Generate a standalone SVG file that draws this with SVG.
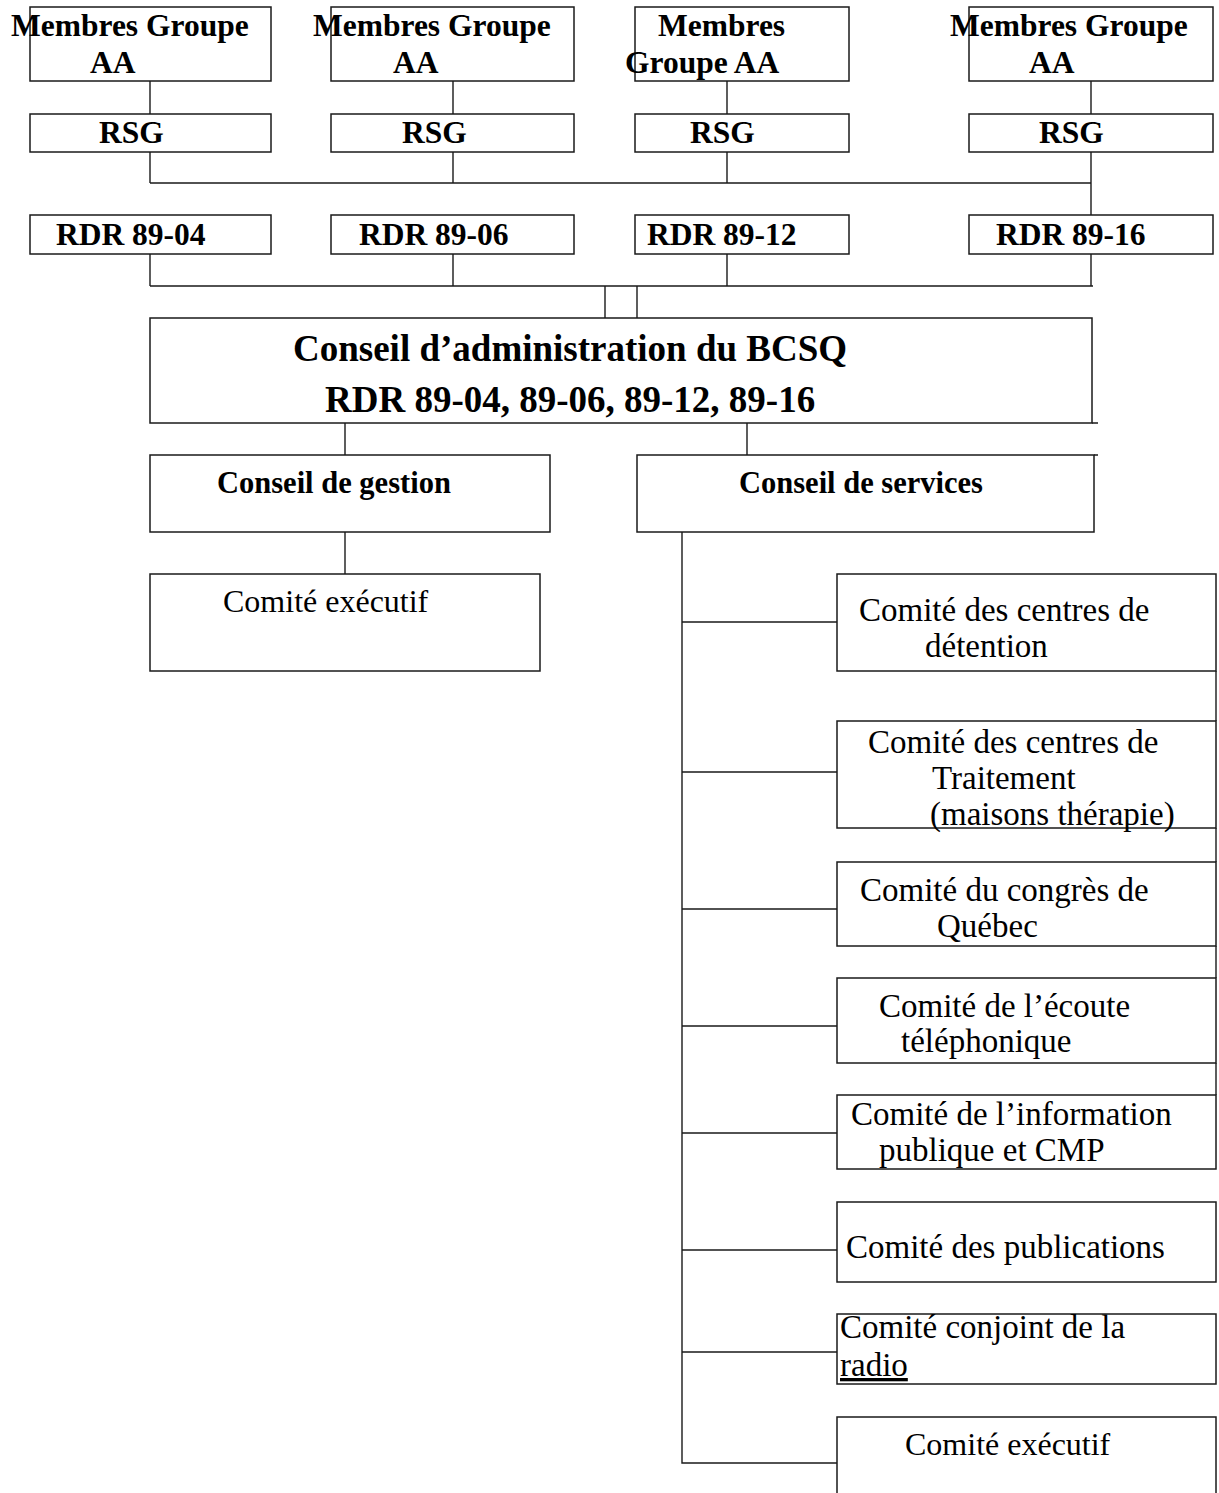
<svg xmlns="http://www.w3.org/2000/svg" width="1219" height="1493" viewBox="0 0 1219 1493">
<style>
.box{fill:#fff;stroke:#1a1a1a;stroke-width:1.5}
.ln{stroke:#1a1a1a;stroke-width:1.4;fill:none}
.tb{font-family:"Liberation Serif","Times New Roman",serif;font-weight:bold;font-size:31.5px;fill:#000}
.tc{font-family:"Liberation Serif","Times New Roman",serif;font-weight:bold;font-size:30.5px;fill:#000}
.ta{font-family:"Liberation Serif","Times New Roman",serif;font-weight:bold;font-size:37px;fill:#000}
.tr{font-family:"Liberation Serif","Times New Roman",serif;font-size:33px;fill:#000}
.tx{font-family:"Liberation Serif","Times New Roman",serif;font-size:32px;fill:#000}
</style>
<rect width="1219" height="1493" fill="#fff"/>
<g id="connectors">
<path class="ln" d="M150 81V114M453 81V114M727 81V114M1091 81V114"/>
<path class="ln" d="M150 152V183M453 152V183M727 152V183M1091 152V215M150 183H1091"/>
<path class="ln" d="M150 254V286M453 254V286M727 254V286M1091 254V286M150 286H1093"/>
<path class="ln" d="M605 286V318M637 286V318"/>
<path class="ln" d="M345 423V455M747 423V455M1092 423H1098M1094 455H1098"/>
<path class="ln" d="M345 532V574"/>
<path class="ln" d="M682 532V1463H837"/>
<path class="ln" d="M682 622H837M682 772H837M682 909H837M682 1026H837M682 1133H837M682 1250H837M682 1352H837"/>
<path class="ln" d="M1216 671V721M1216 828V862M1216 946V978M1216 1063V1095"/>
</g>
<g id="n-membres1"><rect class="box" x="30" y="7" width="241" height="74"/><text class="tb" x="11" y="36">Membres Groupe</text><text class="tb" x="90" y="73">AA</text></g>
<g id="n-membres2"><rect class="box" x="331" y="7" width="243" height="74"/><text class="tb" x="313" y="36">Membres Groupe</text><text class="tb" x="393" y="73">AA</text></g>
<g id="n-membres3"><rect class="box" x="635" y="7" width="214" height="74"/><text class="tb" x="658" y="36">Membres</text><text class="tb" x="625" y="73">Groupe AA</text></g>
<g id="n-membres4"><rect class="box" x="969" y="7" width="244" height="74"/><text class="tb" x="950" y="36">Membres Groupe</text><text class="tb" x="1029" y="73">AA</text></g>
<g id="n-rsg1"><rect class="box" x="30" y="114" width="241" height="38"/><text class="tb" x="99" y="143">RSG</text></g>
<g id="n-rsg2"><rect class="box" x="331" y="114" width="243" height="38"/><text class="tb" x="402" y="143">RSG</text></g>
<g id="n-rsg3"><rect class="box" x="635" y="114" width="214" height="38"/><text class="tb" x="690" y="143">RSG</text></g>
<g id="n-rsg4"><rect class="box" x="969" y="114" width="244" height="38"/><text class="tb" x="1039" y="143">RSG</text></g>
<g id="n-rdr1"><rect class="box" x="30" y="215" width="241" height="39"/><text class="tb" x="56" y="245">RDR 89-04</text></g>
<g id="n-rdr2"><rect class="box" x="331" y="215" width="243" height="39"/><text class="tb" x="359" y="245">RDR 89-06</text></g>
<g id="n-rdr3"><rect class="box" x="635" y="215" width="214" height="39"/><text class="tb" x="647" y="245">RDR 89-12</text></g>
<g id="n-rdr4"><rect class="box" x="969" y="215" width="244" height="39"/><text class="tb" x="996" y="245">RDR 89-16</text></g>
<g id="n-conseil-admin"><rect class="box" x="150" y="318" width="942" height="105"/><text class="ta" x="293" y="361">Conseil d’administration du BCSQ</text><text class="ta" x="325" y="412">RDR 89-04, 89-06, 89-12, 89-16</text></g>
<g id="n-conseil-gestion"><rect class="box" x="150" y="455" width="400" height="77"/><text class="tc" x="217" y="493">Conseil de gestion</text></g>
<g id="n-conseil-services"><rect class="box" x="637" y="455" width="457" height="77"/><text class="tc" x="739" y="493">Conseil de services</text></g>
<g id="n-comite-executif-g"><rect class="box" x="150" y="574" width="390" height="97"/><text class="tx" x="223" y="612">Comité exécutif</text></g>
<g id="n-c1"><rect class="box" x="837" y="574" width="379" height="97"/><text class="tr" x="859" y="621">Comité des centres de</text><text class="tr" x="925" y="657">détention</text></g>
<g id="n-c2"><rect class="box" x="837" y="721" width="379" height="107"/><text class="tr" x="868" y="753">Comité des centres de</text><text class="tr" x="932" y="789">Traitement</text><text class="tr" x="930" y="825">(maisons thérapie)</text></g>
<g id="n-c3"><rect class="box" x="837" y="862" width="379" height="84"/><text class="tr" x="860" y="901">Comité du congrès de</text><text class="tr" x="937" y="937">Québec</text></g>
<g id="n-c4"><rect class="box" x="837" y="978" width="379" height="85"/><text class="tr" x="879" y="1017">Comité de l’écoute</text><text class="tr" x="901" y="1052">téléphonique</text></g>
<g id="n-c5"><rect class="box" x="837" y="1095" width="379" height="74"/><text class="tr" x="851" y="1125">Comité de l’information</text><text class="tr" x="879" y="1161">publique et CMP</text></g>
<g id="n-c6"><rect class="box" x="837" y="1202" width="379" height="80"/><text class="tr" x="846" y="1258">Comité des publications</text></g>
<g id="n-c7"><rect class="box" x="837" y="1314" width="379" height="70"/><text class="tr" x="840" y="1338">Comité conjoint de la</text><text class="tr" x="840" y="1376" text-decoration="underline">radio</text></g>
<g id="n-c8"><rect class="box" x="837" y="1417" width="379" height="90"/><text class="tx" x="905" y="1455">Comité exécutif</text></g>
</svg>
